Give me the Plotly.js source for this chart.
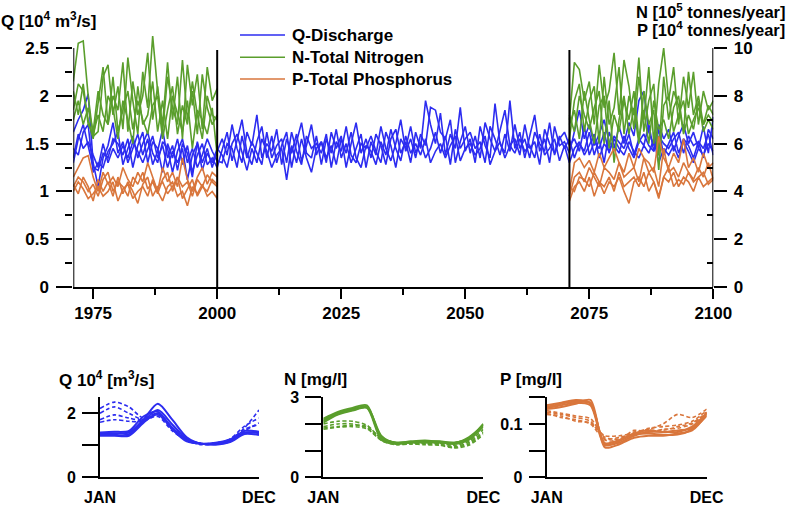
<!DOCTYPE html>
<html><head><meta charset="utf-8">
<script src="https://cdn.plot.ly/plotly-3.0.1.min.js"></script>
<style>html,body{margin:0;padding:0;background:#fff}#chart{width:787px;height:505px}</style>
</head><body><div id="chart"></div>
<script>
// ---------- annual series (main panel) ----------
const yearStart = 1971, yearEnd = 2100;
const histStart = 1971, histEnd = 2000, futStart = 2071, futEnd = 2100;

// Q-Discharge [10^4 m3/s], 1971-2100
const q1 = [1.62,1.75,1.85,2.02,1.30,1.05,1.35,1.48,1.72,1.40, 1.52,1.30,1.45,1.60,1.38,1.55,1.28,1.42,1.65,1.35, 1.48,1.22,1.50,1.40,1.15,1.52,1.30,1.45,1.25,1.42,
 1.55,1.38,1.70,1.45,1.30,1.62,1.48,1.80,1.35,1.50, 1.42,1.65,1.28,1.55,1.40,1.60,1.32,1.48,1.70,1.38, 1.52,1.30,1.62,1.45,1.58,1.25,1.50,1.72,1.40,1.55,
 1.35,1.60,1.48,1.28,1.55,1.65,1.40,1.52,1.30,1.62, 1.45,1.95,1.70,1.50,1.82,1.38,1.60,1.45,1.88,1.42, 1.55,1.30,1.68,1.48,1.35,1.92,1.50,1.40,1.95,1.45,
 1.62,1.35,1.58,1.80,1.42,1.55,1.30,1.68,1.48,1.52, 1.40,1.62,1.85,1.55,1.70,1.48,1.60,1.75,1.52,1.45, 1.68,1.50,1.72,1.58,1.95,2.05,1.62,1.48,1.70,1.55,
 1.65,1.42,1.58,1.70,1.50,1.62,1.45,1.68,1.40,1.78];
const q2 = [1.30,1.55,1.70,1.48,1.25,1.22,1.40,1.35,1.55,1.50, 1.38,1.55,1.25,1.48,1.62,1.30,1.52,1.45,1.20,1.50, 1.35,1.55,1.28,1.48,1.20,1.38,1.50,1.28,1.35,1.25,
 1.45,1.62,1.32,1.55,1.75,1.40,1.28,1.52,1.68,1.35, 1.58,1.30,1.48,1.62,1.25,1.52,1.72,1.40,1.35,1.58, 1.28,1.55,1.40,1.65,1.35,1.50,1.30,1.45,1.60,1.25,
 1.52,1.38,1.68,1.45,1.32,1.50,1.75,1.42,1.55,1.35, 1.60,1.48,1.88,1.85,1.62,1.55,1.75,1.30,1.52,1.68, 1.40,1.58,1.35,1.72,1.55,1.42,1.62,1.85,1.48,1.55,
 1.38,1.70,1.45,1.52,1.28,1.65,1.50,1.40,1.58,1.45, 1.55,1.35,1.50,1.42,1.62,1.38,1.55,1.30,1.62,1.48, 1.40,1.58,1.45,1.35,1.52,1.60,1.48,1.42,1.65,1.38,
 1.50,1.62,1.40,1.55,1.48,1.35,1.52,1.45,1.60,1.38];
const q3 = [1.45,1.38,1.62,1.70,1.20,1.30,1.25,1.42,1.50,1.62, 1.28,1.45,1.58,1.35,1.50,1.62,1.40,1.30,1.52,1.45, 1.20,1.42,1.55,1.30,1.45,1.25,1.38,1.55,1.42,1.32,
 1.30,1.50,1.45,1.25,1.58,1.35,1.52,1.40,1.28,1.62, 1.35,1.48,1.55,1.30,1.62,1.42,1.28,1.58,1.45,1.50, 1.40,1.60,1.25,1.52,1.42,1.68,1.38,1.30,1.50,1.45,
 1.58,1.42,1.30,1.62,1.48,1.25,1.55,1.45,1.68,1.40, 1.52,1.35,1.45,1.62,1.40,1.58,1.28,1.65,1.45,1.55, 1.62,1.45,1.52,1.30,1.68,1.55,1.38,1.60,1.42,1.70,
 1.45,1.55,1.35,1.62,1.50,1.42,1.72,1.38,1.55,1.62, 1.48,1.55,1.42,1.68,1.38,1.52,1.45,1.62,1.40,1.58, 1.52,1.45,1.60,1.38,1.55,1.48,1.70,1.42,1.58,1.50,
 1.45,1.55,1.62,1.40,1.58,1.48,1.52,1.35,1.65,1.55];
const q4 = [1.35,1.60,1.45,1.52,1.38,1.25,1.50,1.30,1.45,1.35, 1.48,1.35,1.52,1.42,1.30,1.45,1.58,1.35,1.48,1.25, 1.42,1.30,1.45,1.12,1.38,1.50,1.22,1.40,1.30,1.45,
 1.38,1.25,1.50,1.60,1.42,1.22,1.45,1.30,1.55,1.42, 1.25,1.38,1.45,1.12,1.48,1.30,1.55,1.35,1.20,1.45, 1.52,1.35,1.48,1.28,1.55,1.40,1.62,1.35,1.25,1.48,
 1.42,1.28,1.52,1.38,1.65,1.45,1.32,1.58,1.40,1.50, 1.38,1.55,1.30,1.42,1.50,1.35,1.48,1.58,1.32,1.45, 1.50,1.38,1.45,1.58,1.28,1.42,1.52,1.35,1.48,1.40,
 1.55,1.42,1.48,1.35,1.60,1.38,1.45,1.55,1.32,1.48, 1.30,1.45,1.52,1.38,1.48,1.60,1.35,1.50,1.42,1.55, 1.45,1.38,1.52,1.42,1.35,1.48,1.40,1.55,1.30,1.45,
 1.38,1.48,1.35,1.52,1.42,1.30,1.45,1.38,1.50,1.42];

// N-Total Nitrogen [10^5 tonnes/year]
const nHist1 = [8.6,10.2,10.3,8.0,6.3,6.5,8.8,9.3,7.2,8.4,6.6,9.6,7.8,6.4,9.0,7.5,10.5,8.2,6.8,9.4,7.0,8.8,6.2,9.3,7.6,8.9,6.6,9.2,7.8,8.3];
const nHist2 = [7.4,8.5,8.2,7.0,6.2,7.8,9.2,6.8,8.0,7.4,9.4,6.5,8.6,7.2,8.0,9.8,7.0,8.4,6.5,8.8,7.5,6.8,9.5,7.0,8.2,6.4,8.9,7.5,6.8,7.2];
const nHist3 = [8.2,7.2,8.5,6.8,6.4,7.2,6.5,8.0,7.5,6.2,7.8,7.0,6.0,8.4,6.8,7.2,8.6,6.5,7.8,6.2,8.0,7.2,6.5,7.8,5.8,7.4,7.0,6.4,7.5,5.5];
const nHist4 = [7.0,7.8,6.8,7.5,6.5,8.2,7.2,6.8,8.8,6.5,7.4,8.2,6.6,7.8,7.0,6.4,7.6,8.0,6.2,7.4,8.4,6.4,7.6,6.8,8.6,7.2,6.2,8.0,7.2,7.0];
const nFut1 = [7.0,9.4,9.1,7.8,8.6,6.8,9.3,7.5,8.2,9.8,7.2,9.5,8.4,6.6,8.8,7.0,9.2,6.0,8.5,10.0,7.8,9.2,6.8,8.8,7.5,9.0,6.8,8.2,7.4,7.8];
const nFut2 = [6.2,7.8,8.5,6.5,7.8,8.4,6.0,8.8,6.8,7.5,9.2,6.4,8.0,7.2,9.6,6.5,7.8,8.5,5.5,8.8,7.0,8.2,7.6,6.5,9.0,7.2,8.0,6.8,7.6,7.2];
const nFut3 = [7.2,6.5,8.0,7.2,6.6,7.5,8.2,6.0,7.8,5.2,7.0,8.0,6.4,7.5,6.0,8.2,6.8,7.4,4.9,7.6,8.0,6.5,7.2,7.8,6.4,7.0,7.5,6.8,7.2,6.9];
const nFut4 = [6.8,7.4,6.2,8.2,7.0,6.0,7.6,8.0,5.8,7.2,6.5,7.8,7.0,8.2,6.2,7.4,6.0,7.8,6.6,7.0,6.2,7.5,8.0,6.4,7.2,6.6,7.8,6.5,7.0,6.6];

// P-Total Phosphorus [10^4 tonnes/year]
const pHist1 = [4.6,5.0,5.4,5.5,4.6,4.0,4.8,4.3,4.6,4.2,5.0,4.5,4.2,4.8,4.4,5.2,4.6,4.0,5.0,4.4,4.8,4.2,5.4,4.5,4.0,4.6,5.0,4.3,4.8,4.6];
const pHist2 = [4.2,4.6,4.4,4.0,4.3,3.8,4.5,4.8,4.0,4.4,4.2,3.8,4.6,4.3,4.8,4.1,4.4,3.9,4.5,4.8,4.0,4.6,4.2,4.4,3.8,4.5,4.2,4.7,4.4,4.2];
const pHist3 = [4.0,4.4,4.1,3.7,3.9,4.2,3.8,4.0,4.4,3.6,4.1,4.3,3.7,4.0,4.2,3.8,4.5,4.0,3.6,4.2,4.4,3.8,4.0,3.4,4.2,3.9,4.3,3.8,4.0,3.7];
const pHist4 = [4.3,3.9,4.6,4.2,3.6,4.5,4.0,4.4,3.8,4.6,3.9,4.4,4.0,3.5,4.3,4.6,3.8,4.2,4.4,3.9,4.2,4.6,3.7,4.1,4.5,3.8,4.2,4.0,4.5,4.3];
const pFut1 = [4.0,5.2,5.4,5.0,5.3,4.8,5.6,5.0,5.4,5.8,5.2,4.8,5.6,5.0,5.8,5.4,5.2,4.8,6.3,5.4,5.0,5.6,5.2,6.2,5.0,5.4,4.8,5.6,5.0,5.2];
const pFut2 = [3.8,4.6,4.8,4.4,5.0,4.6,4.2,5.0,4.8,4.5,5.2,4.6,4.8,5.0,4.4,5.4,4.8,5.0,4.2,5.8,4.8,5.0,4.6,5.2,4.8,4.5,5.0,4.6,5.2,4.5];
const pFut3 = [3.6,4.2,4.4,4.0,4.6,3.8,4.4,4.2,4.6,4.0,4.8,4.2,4.4,4.6,4.2,4.8,4.0,4.4,3.8,4.6,4.4,4.8,4.2,4.6,4.4,4.0,4.6,4.2,4.4,4.6];
const pFut4 = [4.2,4.0,4.6,4.5,4.2,4.8,4.4,3.9,4.4,4.2,4.6,4.0,3.5,4.4,4.6,4.2,4.8,4.4,3.7,4.6,5.0,4.2,4.5,4.3,4.8,4.4,4.6,4.8,4.3,4.5];

// ---------- monthly regimes (bottom panels) ----------
const months = [1,2,3,4,5,6,7,8,9,10,11,12];
const monthTickLabels = ['JAN','DEC'];
const qSolid = [
 [1.38,1.38,1.40,1.80,2.30,1.80,1.25,1.05,1.05,1.12,1.38,1.40],
 [1.35,1.32,1.35,1.75,2.10,1.65,1.20,1.05,1.05,1.15,1.40,1.38],
 [1.30,1.30,1.30,1.70,2.00,1.55,1.15,1.05,1.02,1.10,1.35,1.32],
 [1.40,1.42,1.45,1.90,2.05,1.50,1.12,1.05,1.08,1.18,1.45,1.42]];
const qDash = [
 [2.15,2.35,2.20,1.85,2.00,1.55,1.20,1.05,1.05,1.15,1.55,2.10],
 [2.00,2.20,2.00,1.80,1.95,1.50,1.15,1.05,1.05,1.20,1.60,1.85],
 [1.80,1.95,1.85,1.78,1.90,1.45,1.15,1.02,1.05,1.12,1.45,1.70],
 [1.72,1.80,1.75,1.75,1.95,1.50,1.18,1.05,1.08,1.18,1.50,1.65]];
const nSolid = [
 [2.20,2.45,2.60,2.70,1.45,1.30,1.32,1.35,1.35,1.30,1.45,2.00],
 [2.15,2.40,2.55,2.65,1.55,1.28,1.30,1.32,1.30,1.28,1.50,1.95],
 [2.05,2.35,2.50,2.60,1.40,1.25,1.32,1.30,1.32,1.25,1.40,1.90],
 [2.10,2.38,2.52,2.62,1.50,1.30,1.35,1.38,1.33,1.30,1.45,1.98]];
const nDash = [
 [2.00,2.10,2.10,1.95,1.45,1.30,1.30,1.30,1.28,1.20,1.35,1.80],
 [1.90,2.00,2.00,1.85,1.40,1.25,1.28,1.25,1.22,1.15,1.30,1.70],
 [1.85,1.90,1.95,1.90,1.45,1.28,1.25,1.28,1.25,1.12,1.25,1.65],
 [1.80,1.88,1.90,1.82,1.38,1.22,1.25,1.22,1.20,1.10,1.20,1.60]];
const pSolid = [
 [0.135,0.140,0.145,0.140,0.062,0.065,0.078,0.085,0.085,0.085,0.095,0.120],
 [0.130,0.135,0.140,0.135,0.060,0.068,0.080,0.082,0.080,0.080,0.090,0.115],
 [0.128,0.132,0.138,0.145,0.056,0.062,0.074,0.078,0.078,0.082,0.088,0.118],
 [0.132,0.138,0.142,0.138,0.064,0.070,0.082,0.088,0.085,0.088,0.092,0.122]];
const pDash = [
 [0.125,0.120,0.115,0.110,0.075,0.072,0.085,0.090,0.100,0.118,0.112,0.128],
 [0.122,0.118,0.112,0.105,0.072,0.075,0.082,0.092,0.095,0.098,0.105,0.125],
 [0.120,0.112,0.108,0.100,0.070,0.070,0.088,0.085,0.090,0.092,0.100,0.120],
 [0.118,0.115,0.105,0.102,0.078,0.078,0.082,0.088,0.088,0.095,0.102,0.122]];

// ---------- build ----------
const W = 787, H = 505;
const px = v => v / W, py = v => 1 - v / H;
const BLUE = '#2c2cf0', GREEN = '#5a9e2c', ORANGE = '#d9763c';
const FAM = '"Liberation Sans", Arial, Helvetica, sans-serif';
const f = (s) => ({family: FAM, size: s, color: '#000', weight: 'bold'});

function range(a, b) { const r = []; for (let i = a; i <= b; i++) r.push(i); return r; }
const allYears = range(yearStart, yearEnd);
const histYears = range(histStart, histEnd);
const futYears = range(futStart, futEnd);

const traces = [];
const line = (x, y, color, xa, ya, w, dash) => traces.push({
  x, y, xaxis: xa, yaxis: ya, type: 'scatter', mode: 'lines',
  line: {color, width: w, dash: dash || 'solid', shape: xa === 'x' ? 'linear' : 'spline', smoothing: 0.8},
  hoverinfo: 'skip', showlegend: false});

[nHist1, nHist2, nHist3, nHist4].forEach(s => line(histYears, s, GREEN, 'x', 'y2', 1.6));
[nFut1, nFut2, nFut3, nFut4].forEach(s => line(futYears, s, GREEN, 'x', 'y2', 1.6));
[q1, q2, q3, q4].forEach(s => line(allYears, s, BLUE, 'x', 'y', 1.6));
[pHist1, pHist2, pHist3, pHist4].forEach(s => line(histYears, s, ORANGE, 'x', 'y2', 1.6));
[pFut1, pFut2, pFut3, pFut4].forEach(s => line(futYears, s, ORANGE, 'x', 'y2', 1.6));

const DASH = '4px,2.5px';
qDash.forEach(s => line(months, s, BLUE, 'x2', 'y3', 1.6, DASH));
qSolid.forEach(s => line(months, s, BLUE, 'x2', 'y3', 2.0));
nDash.forEach(s => line(months, s, GREEN, 'x3', 'y4', 1.6, DASH));
nSolid.forEach(s => line(months, s, GREEN, 'x3', 'y4', 2.0));
pDash.forEach(s => line(months, s, ORANGE, 'x4', 'y5', 1.6, DASH));
pSolid.forEach(s => line(months, s, ORANGE, 'x4', 'y5', 2.0));

const base = {showgrid: false, zeroline: false, fixedrange: true, automargin: false, tickcolor: '#000', linecolor: '#000'};
const botDomY = [py(477.3), py(397.3)];
const botX = (d, anchor) => Object.assign({}, base, {
  domain: d, anchor, range: [1, 12], tickvals: [1, 12], ticktext: monthTickLabels,
  ticks: 'outside', ticklen: 4, tickcolor: 'rgba(0,0,0,0)', showline: true, linewidth: 2, tickfont: f(16)});
const botY = (anchor, rng, tv, mv) => Object.assign({}, base, {
  domain: botDomY, anchor, range: rng, tickvals: tv,
  ticks: 'outside', ticklen: 16, tickwidth: 2, showline: true, linewidth: 2, tickfont: f(16), ticklabelstandoff: 3,
  minor: {tickvals: mv, ticks: 'outside', ticklen: 16, tickwidth: 2, tickcolor: '#000'}});

const layout = {
  width: W, height: H, margin: {l: 0, r: 0, t: 0, b: 0},
  paper_bgcolor: '#fff', plot_bgcolor: 'rgba(0,0,0,0)', showlegend: false,
  font: {family: FAM},
  xaxis: Object.assign({}, base, {
    domain: [px(73.3), px(713.3)], range: [1971, 2100], anchor: 'y',
    tickvals: [1975, 2000, 2025, 2050, 2075, 2100], ticks: 'outside', ticklen: 10, tickwidth: 2,
    minor: {tickvals: [1987.5, 2012.5, 2037.5, 2062.5, 2087.5], ticks: 'outside', ticklen: 6, tickwidth: 2, tickcolor: '#000'},
    showline: true, linewidth: 2, tickfont: f(17)}),
  yaxis: Object.assign({}, base, {
    domain: [py(287), py(33.7)], range: [0, 2.65], anchor: 'x',
    tickvals: [0, 0.5, 1, 1.5, 2, 2.5], ticktext: ['0', '0.5', '1', '1.5', '2', '2.5'],
    ticks: 'outside', ticklen: 16, tickwidth: 2,
    minor: {tickvals: [0.25, 0.75, 1.25, 1.75, 2.25], ticks: 'outside', ticklen: 7, tickwidth: 2, tickcolor: '#000'},
    showline: false, tickfont: f(17), ticklabelstandoff: 4}),
  yaxis2: Object.assign({}, base, {
    overlaying: 'y', side: 'right', anchor: 'x', range: [0, 10.6],
    tickvals: [0, 2, 4, 6, 8, 10], ticks: 'outside', ticklen: 13, tickwidth: 2,
    minor: {tickvals: [1, 3, 5, 7, 9], ticks: 'inside', ticklen: 6, tickwidth: 2, tickcolor: '#000'},
    showline: false, tickfont: f(17), ticklabelstandoff: 3}),
  xaxis2: botX([px(100), px(259)], 'y3'),
  yaxis3: botY('x2', [0, 2.5], [0, 2], [1]),
  xaxis3: botX([px(323.3), px(483.3)], 'y4'),
  yaxis4: botY('x3', [0, 3], [0, 3], [1, 2]),
  xaxis4: botX([px(546.7), px(706.7)], 'y5'),
  yaxis5: botY('x4', [0, 0.15], [0, 0.1], [0.05, 0.15]),
  shapes: [
    {type: 'line', xref: 'x', yref: 'y', x0: 1971, x1: 1971, y0: 0, y1: 2.5, line: {color: '#000', width: 2}},
    {type: 'line', xref: 'x', yref: 'y', x0: 2100, x1: 2100, y0: 0, y1: 2.5, line: {color: '#000', width: 2}},
    {type: 'line', xref: 'x', yref: 'y', x0: 2000, x1: 2000, y0: 0, y1: 2.48, line: {color: '#000', width: 2}},
    {type: 'line', xref: 'x', yref: 'y', x0: 2071, x1: 2071, y0: 0, y1: 2.48, line: {color: '#000', width: 2}},
    {type: 'line', xref: 'paper', yref: 'paper', x0: px(240), x1: px(285), y0: py(35), y1: py(35), line: {color: BLUE, width: 1.6}},
    {type: 'line', xref: 'paper', yref: 'paper', x0: px(240), x1: px(285), y0: py(57.3), y1: py(57.3), line: {color: GREEN, width: 1.6}},
    {type: 'line', xref: 'paper', yref: 'paper', x0: px(240), x1: px(285), y0: py(79), y1: py(79), line: {color: ORANGE, width: 1.6}}
  ],
  annotations: [
    {text: 'Q-Discharge', x: px(291), y: py(35)},
    {text: 'N-Total Nitrogen', x: px(291), y: py(57.3)},
    {text: 'P-Total Phosphorus', x: px(291), y: py(79)},
    {text: 'Q [10<sup>4</sup> m<sup>3</sup>/s]', x: px(0), y: py(20)},
    {text: 'N [10<sup>5</sup> tonnes/year]', x: px(786), y: py(11), xanchor: 'right', font: f(16.5)},
    {text: 'P [10<sup>4</sup> tonnes/year]', x: px(786), y: py(29), xanchor: 'right', font: f(16.5)},
    {text: 'Q 10<sup>4</sup> [m<sup>3</sup>/s]', x: px(58), y: py(379)},
    {text: 'N [mg/l]', x: px(283), y: py(379)},
    {text: 'P [mg/l]', x: px(499), y: py(379)}
  ].map(a => Object.assign({xref: 'paper', yref: 'paper', showarrow: false, xanchor: 'left', yanchor: 'middle', font: f(17), borderpad: 0}, a))
};

Plotly.newPlot('chart', traces, layout, {staticPlot: true, displayModeBar: false});
</script>
</body></html>
